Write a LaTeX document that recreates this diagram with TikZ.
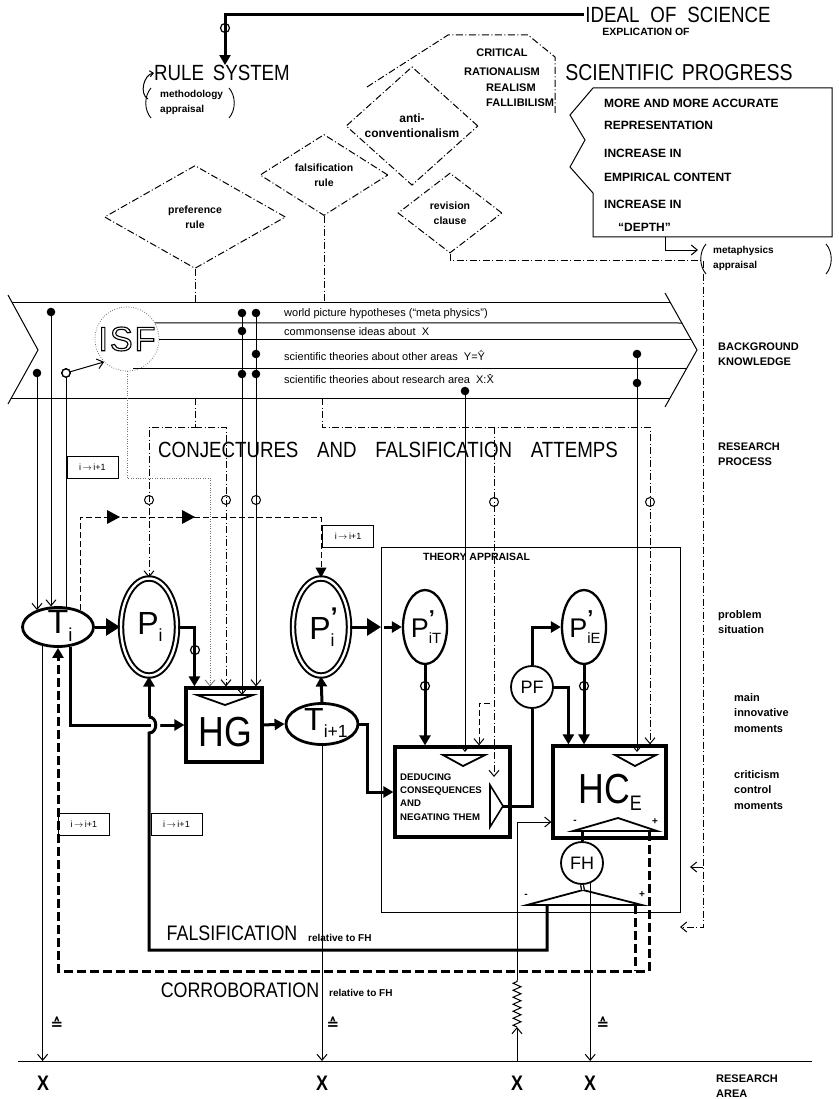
\documentclass[tikz,border=0pt]{standalone}
\usepackage{fontspec}
\usepackage{graphicx}
\setmainfont{Liberation Sans}
\newfontfamily\narrowsf[FakeStretch=0.85]{Liberation Sans}
\newfontfamily\symbolsf{DejaVu Sans}
\usetikzlibrary{arrows.meta, shapes.geometric, calc, decorations.pathmorphing}

% letter with raised mark and lowered index
\newcommand{\termsym}[3]{#1\rlap{\raisebox{0.42em}{\scalebox{0.8}{\bfseries #2}}}\raisebox{-0.22em}{\scalebox{0.55}{#3}}}
% hollow letters
\newcommand{\hollow}[1]{\special{pdf:literal direct 1 Tr 1.1 w}#1\special{pdf:literal direct 0 Tr}}
% knowledge dot and crossing mark
\newcommand{\kdot}[1]{\fill (#1) circle[radius=4.3pt];}
\newcommand{\phimark}[2][1pt]{\draw[line width=#1] (#2) circle[radius=4.5pt];}

\begin{document}
\begin{tikzpicture}[
    x=1pt, y=-1pt,
    every node/.style={inner sep=1pt},
    thin line/.style={line width=1pt},
    heavy line/.style={line width=3pt},
    rule line/.style={line width=1pt, dash pattern=on 7pt off 2.5pt on 1pt off 2.5pt},
    thin dashed/.style={line width=1pt, dash pattern=on 6pt off 3pt},
    loop dashed/.style={line width=3pt, dash pattern=on 9pt off 4pt},
    isf dotted/.style={line width=0.8pt, black!55, dash pattern=on 0.8pt off 1.6pt},
    paren line/.style={line width=0.9pt},
    open tip/.style={-{Straight Barb[length=6pt, width=10pt]}},
    small tip/.style={-{Straight Barb[length=3.5pt, width=6pt]}},
    solid tip/.style={-{Triangle[length=10pt, width=11pt]}},
    big tip/.style={-{Triangle[length=14pt, width=17pt]}},
    headline/.style={font=\narrowsf\fontsize{21}{21}\selectfont},
    note text/.style={align=left, inner sep=0pt, font=\bfseries\fontsize{10}{15}\selectfont},
    rule diamond/.style={diamond, draw, rule line, inner sep=0pt, align=center, font=\bfseries\fontsize{10.5}{15}\selectfont},
    caps text/.style={font=\bfseries\fontsize{11}{11}\selectfont},
    progress text/.style={anchor=west, font=\bfseries\fontsize{12}{12}\selectfont},
    band text/.style={anchor=west, font=\fontsize{11}{11}\selectfont},
    side label/.style={anchor=west, align=left, font=\bfseries\fontsize{11}{15.5}\selectfont},
    theory/.style={ellipse, draw, line width=2.8pt, inner sep=0pt},
    problem/.style={ellipse, draw, line width=2pt, double=white, double distance=2.4pt, inner sep=0pt},
    sub problem/.style={ellipse, draw, line width=2.3pt, inner sep=0pt, minimum width=44pt, minimum height=74pt},
    moment box/.style={rectangle, draw, line width=3.2pt, inner sep=0pt},
    test circle/.style={circle, draw, line width=1.8pt, inner sep=0pt, minimum size=42pt, font=\fontsize{18}{18}\selectfont},
    index box/.style={rectangle, draw, line width=0.8pt, minimum width=51pt, minimum height=22pt, inner sep=0pt, font=\fontsize{9}{9}\selectfont},
    big sym/.style={font=\fontsize{32}{32}\selectfont},
    corr sign/.style={font=\symbolsf\bfseries\fontsize{15}{15}\selectfont},
    isf letters/.style={font=\fontsize{34}{34}\selectfont\addfontfeatures{LetterSpace=6}}
]
    \useasboundingbox (0,0) rectangle (838,1099);

    % Ideal of science and rule system
    \node[headline, font=\narrowsf\fontsize{22}{22}\selectfont] (ideal) at (678,15) {IDEAL\hspace{0.5em}OF\hspace{0.5em}SCIENCE};
    \node[headline, font=\narrowsf\fontsize{22}{22}\selectfont, inner sep=0pt] (rules) at (222,73) {RULE\hspace{0.4em}SYSTEM};
    \draw[heavy line, solid tip] (ideal.west) -| ([xshift=3pt]rules.north);
    \phimark[1.2pt]{225,28}
    \node[note text, anchor=west] (meth) at (160,102) {methodology\\appraisal};
    \draw[paren line] (151,88) .. controls (144,96) and (144,110) .. (151,118);
    \draw[paren line] (229,88) .. controls (236,96) and (236,110) .. (229,118);
    \draw[thin line, small tip] (148,99) to[out=150, in=190] (rules.west);

    % Scientific progress
    \node[font=\bfseries\fontsize{10.5}{10.5}\selectfont] (explic) at (646,32) {EXPLICATION OF};
    \node[headline, font=\narrowsf\fontsize{23}{23}\selectfont] (sciprog) at (679,73) {SCIENTIFIC\hspace{0.35em}PROGRESS};
    \draw[thin line] (593,88) -- (832,88) -- (832,237) -- (593,237) -- (593,193)
        -- (570,167) -- (585,140) -- (570,115) -- cycle;
    \node[progress text] (prog1) at (603,103) {MORE AND MORE ACCURATE};
    \node[progress text] (prog2) at (603,125) {REPRESENTATION};
    \node[progress text] (prog3) at (603,153) {INCREASE IN};
    \node[progress text] (prog4) at (603,177) {EMPIRICAL CONTENT};
    \node[progress text] (prog5) at (603,204) {INCREASE IN};
    \node[progress text] (prog6) at (617,227) {``DEPTH''};
    \node[note text, anchor=west] (meta) at (713,258) {metaphysics\\appraisal};
    \draw[paren line] (706,244) .. controls (699,252) and (699,266) .. (706,274);
    \draw[paren line] (826,244) .. controls (833,252) and (833,266) .. (826,274);
    \draw[thin line, open tip] (665,237) |- (698,250);

    % Philosophical positions
    \draw[rule line] (367,87) -- (448,35) -- (528,35) -- (555,57) -- (555,113);
    \node[caps text] (crit1) at (502,53) {CRITICAL};
    \node[caps text] (crit2) at (502,72) {RATIONALISM};
    \node[caps text, anchor=west] (crit3) at (485,88) {REALISM};
    \node[caps text, anchor=west] (crit4) at (485,103) {FALLIBILISM};

    % Rules
    \node[rule diamond, minimum width=181pt, minimum height=103pt] (pref) at (195,217) {preference\\rule};
    \node[rule diamond, minimum width=128pt, minimum height=74pt] (fals) at (324,175) {falsification\\rule};
    \node[rule diamond, minimum width=132pt, minimum height=76pt, font=\bfseries\fontsize{12}{15}\selectfont] (anti) at (412,126) {anti-\\conventionalism};
    \node[rule diamond, minimum width=104pt, minimum height=80pt] (revis) at (450,213) {revision\\clause};

    % Background knowledge band
    \node[circle, draw, isf dotted, minimum size=64pt] (ISF) at (127,339) {};
    \node[isf letters] (ISF-text) at (ISF.center) {\hollow{ISF}};
    \draw[thin line] (8,295) -- (38,350) -- (8,404);
    \draw[thin line] (665,293) -- (697,350) -- (665,407);
    \draw[thin line] (12,302) -- (670,302);
    \draw[thin line] (11,398) -- (670,398);
    \draw[thin line] (ISF.30) -- (682,323);
    \draw[thin line] (ISF.east) -- (691,339);
    \draw[thin line] (133,368) -- (687,368);
    \node[band text] (row1) at (283,314) {world picture hypotheses (``meta physics'')};
    \node[band text] (row2) at (283,332) {commonsense ideas about\ \ X};
    \node[band text] (row3) at (283,356) {scientific theories about other areas\ \ Y=\^{Y}};
    \node[band text] (row4) at (283,379) {scientific theories about research area\ \ X:\^{X}};

    \coordinate (kA) at (51,312);
    \coordinate (kB) at (37,373);
    \coordinate (kC) at (66,373);
    \coordinate (kD1) at (242,313);
    \coordinate (kD2) at (242,331);
    \coordinate (kD3) at (242,374);
    \coordinate (kE1) at (256,313);
    \coordinate (kE2) at (256,354);
    \coordinate (kE3) at (256,374);
    \coordinate (kF) at (465,391);
    \coordinate (kG1) at (637,354);
    \coordinate (kG2) at (637,383);
    \coordinate (base) at (18,1061);

    % Side labels
    \node[side label] (lbl-bk) at (717,354) {BACKGROUND\\KNOWLEDGE};
    \node[side label] (lbl-rp) at (717,454) {RESEARCH\\PROCESS};
    \node[side label] (lbl-ps) at (717,622) {problem\\situation};
    \node[side label] (lbl-im) at (733,713) {main\\innovative\\moments};
    \node[side label] (lbl-cc) at (733,790) {criticism\\control\\moments};
    \node[side label] (lbl-ra) at (715,1086) {RESEARCH\\AREA};

    \node[headline, font=\narrowsf\fontsize{22}{22}\selectfont] (conj) at (388,450) {CONJECTURES\hspace{0.85em}AND\hspace{0.85em}FALSIFICATION\hspace{0.85em}ATTEMPS};

    % Research process nodes
    \node[theory, minimum width=71pt, minimum height=39pt] (Ti) at (58,627) {};
    \node[big sym, font=\fontsize{34}{34}\selectfont] (Ti-text) at (60,626) {\termsym{T}{}{i}};
    \node[problem, minimum width=56pt, minimum height=97pt] (Pi) at (149,627) {};
    \node[big sym] (Pi-text) at (150,627) {\termsym{P}{}{i}};
    \node[problem, minimum width=56pt, minimum height=97pt] (Pip) at (321,627) {};
    \node[big sym] (Pip-text) at (322,627) {\termsym{P}{’}{i}};
    \node[sub problem] (PiT) at (425,627) {};
    \node[big sym, font=\fontsize{27}{27}\selectfont] (PiT-text) at (426,627) {\termsym{P}{’}{iT}};
    \node[sub problem] (PiE) at (584,627) {};
    \node[big sym, font=\fontsize{27}{27}\selectfont] (PiE-text) at (585,627) {\termsym{P}{’}{iE}};
    \node[moment box, minimum width=76pt, minimum height=74pt] (HG) at (224,725) {};
    \node[font=\narrowsf\fontsize{42}{42}\selectfont] (HG-text) at (225,732) {HG};
    \node[theory, minimum width=72pt, minimum height=41pt] (Tii) at (322,724) {};
    \node[big sym] (Tii-text) at (326,723) {\termsym{T}{}{i+1}};
    \node[moment box, minimum width=115pt, minimum height=90pt] (DED) at (452.5,792) {};
    \node[anchor=west, align=left, font=\bfseries\fontsize{9.6}{13.3}\selectfont] (DED-text) at (399,797)
        {DEDUCING\\CONSEQUENCES\\AND\\NEGATING THEM};
    \node[moment box, minimum width=113pt, minimum height=92pt] (HCE) at (609.5,792) {};
    \node[font=\narrowsf\fontsize{42}{42}\selectfont] (HCE-text) at (610,792) {HC\raisebox{-7pt}{\fontsize{21}{21}\selectfont E}};
    \node[test circle] (PF) at (532,687) {PF};
    \node[test circle] (FH) at (582,863) {FH};

    % Theory appraisal frame
    \draw[thin line] (381,547) rectangle (680,912);
    \node[anchor=west, font=\bfseries\fontsize{10.5}{10.5}\selectfont] (ta) at (422,557) {THEORY APPRAISAL};

    % Box marks
    \draw[line width=1.8pt, fill=white] (197,695) -- (253,695) -- (225,705) -- cycle;
    \draw[line width=1.8pt, fill=white] (443,755) -- (485,755) -- (463,766) -- cycle;
    \draw[line width=1.8pt, fill=white] (615,755) -- (656,755) -- (635,766) -- cycle;
    \draw[line width=1.6pt] (490,785) -- (503,806) -- (490,827) -- cycle;
    \draw[line width=1.8pt] (573,831) -- (618,818) -- (657,831) -- cycle;
    \draw[line width=1.8pt] (527,905) -- (583,890) -- (642,905) -- cycle;
    \node[font=\bfseries\fontsize{10}{10}\selectfont] (hcm) at (575,822) {-};
    \node[font=\bfseries\fontsize{10}{10}\selectfont] (hcp) at (655,822) {+};
    \node[font=\bfseries\fontsize{10}{10}\selectfont] (fhm) at (526,896) {-};
    \node[font=\bfseries\fontsize{10}{10}\selectfont] (fhp) at (642,895) {+};

    % Lines out of the background knowledge
    \draw[thin line, open tip] (kB) -- (kB |- Ti.142);
    \draw[thin line, open tip] (kA) -- (kA |- Ti.109);
    \draw[thin line] (kC) -- (kC |- Ti.68);
    \draw[thin line, open tip] (kC) -- (ISF.225);
    \draw[thin line, open tip] (kD1) -- (242,695);
    \draw[thin line, open tip] (kE1) -- (kE1 |- HG.north);
    \draw[thin line, open tip] (kF) -- (465,752);
    \draw[thin line, open tip] (kG1) -- (637,752);
    \phimark{256,500}
    \foreach \k in {kA,kB,kD1,kD2,kD3,kE1,kE2,kE3,kF,kG1,kG2}
        \kdot{\k}
    \draw[thin line, fill=white] (kC) circle[radius=4pt];
    \draw[isf dotted, open tip] (ISF.south) |- (210,478) -- (210,0 |- HG.north);

    % Rule lines
    \draw[rule line] (pref.south) -- (195,302);
    \draw[rule line, open tip] (195,398) |- (149,427) -- (Pi.north);
    \draw[rule line, open tip] (195,427) -| (226,0 |- HG.north);
    \phimark{149,500}
    \phimark{226,500}
    \draw[rule line] (fals.south) -- (324,302);
    \draw[rule line, open tip] (322,398) |- (650,427) -- (650,0 |- HCE.north);
    \draw[rule line, open tip] (494,427) -- (494,777);
    \draw[thin dashed, open tip] (490,703) -| (479,0 |- DED.north);
    \phimark{494,502}
    \phimark{650,502}
    \draw[rule line, open tip] (revis.south) -- (450,260) -| (703,927) -- (680,927);
    \draw[thin line, open tip] (703,867) -- (690,867);

    % Index changes
    \node[index box] (step1) at (92.5,467) {i\,$\rightarrow$\,i+1};
    \node[index box] (step2) at (348,536) {i\,$\rightarrow$\,i+1};
    \node[index box] (step3) at (84,824) {i\,$\rightarrow$\,i+1};
    \node[index box] (step4) at (176.5,824) {i\,$\rightarrow$\,i+1};
    \draw[thin dashed, solid tip] (Ti.37) |- (Pip.north |- 0,517) -- (Pip.north);
    \foreach \tx in {113,188}
        \fill (\tx-6,510) -- (\tx+7,517) -- (\tx-6,524) -- cycle;

    % Conjecture and test flow
    \draw[heavy line, big tip] (Ti) -- (Pi);
    \draw[heavy line, solid tip] (Pi.east) -| ($(HG.north west)+(10,0)$);
    \phimark[1.2pt]{195,650}
    \draw[heavy line, solid tip] (Ti.-58) |- (HG.west);
    \draw[heavy line, solid tip] (HG.east) -- (Tii.west);
    \draw[heavy line, solid tip] (Tii.north) -- (Pip.south);
    \draw[heavy line, solid tip] (Tii.east) -- ++(8,0) |- (DED.west);
    \draw[heavy line, big tip] (Pip.east) -- (381,627);
    \draw[heavy line, solid tip] (384,627) -- (PiT.west);
    \draw[heavy line, solid tip] (PiT.south) -- (PiT.south |- DED.north);
    \phimark[1.2pt]{425,686}
    \draw[heavy line, solid tip] (PiE.south) -- (PiE.south |- HCE.north);
    \phimark[1.2pt]{584,686}
    \draw[heavy line, solid tip] (PF.north) |- (PiE.west);
    \draw[heavy line, solid tip] (PF.east) -| ($(HCE.north west)+(17,0)$);
    \draw[heavy line] (503,806) -| (PF.south);
    \draw[heavy line] (FH.north) -- (582,831);
    \draw[line width=1.3pt, double, double distance=1.4pt] (FH.south) -- (583,890);

    % Falsification and corroboration loops
    \draw[white, line width=9pt] (149,733) .. controls (158,733) and (158,717) .. (149,717);
    \draw[heavy line] (547,905) |- (149,950) -- (149,733) .. controls (158,733) and (158,717) .. (149,717);
    \draw[heavy line, solid tip] (149,717) -- (Pi.south);
    \draw[loop dashed, solid tip] (649,832) -- (649,971) -| (Ti.south);
    \draw[loop dashed] (635,905) -- (635,971);
    \node[headline] (falsif) at (232,933) {FALSIFICATION};
    \node[anchor=west, font=\bfseries\fontsize{10}{10}\selectfont] (falsif-rel) at (307,938) {relative to FH};
    \node[headline] (corrob) at (240,990) {CORROBORATION};
    \node[anchor=west, font=\bfseries\fontsize{10}{10}\selectfont] (corrob-rel) at (328,993) {relative to FH};

    % Research area
    \draw[thin line] (base) -- (812,1061);
    \draw[thin line, open tip] (Ti.-129) -- (Ti.-129 |- base);
    \draw[thin line, open tip] (Tii.south) -- (Tii.south |- base);
    \draw[thin line, open tip] (FH.-68) -- (FH.-68 |- base);
    \draw[thin line, open tip] (517,1061) -- (517,1027);
    \draw[thin line, decorate, decoration={zigzag, segment length=7pt, amplitude=4pt}] (517,1027) -- (517,980);
    \draw[thin line, open tip] (517,980) |- (HCE.west |- 0,822);
    \node[corr sign] (corr1) at (57,1023) {≙};
    \node[corr sign] (corr2) at (333,1023) {≙};
    \node[corr sign] (corr3) at (603,1023) {≙};
    \foreach \xx/\nm in {43/x1, 322/x2, 517/x3, 590/x4}
        \node[font=\narrowsf\bfseries\fontsize{21}{21}\selectfont] (area-\nm) at (\xx,1083) {X};

\end{tikzpicture}
\end{document}
